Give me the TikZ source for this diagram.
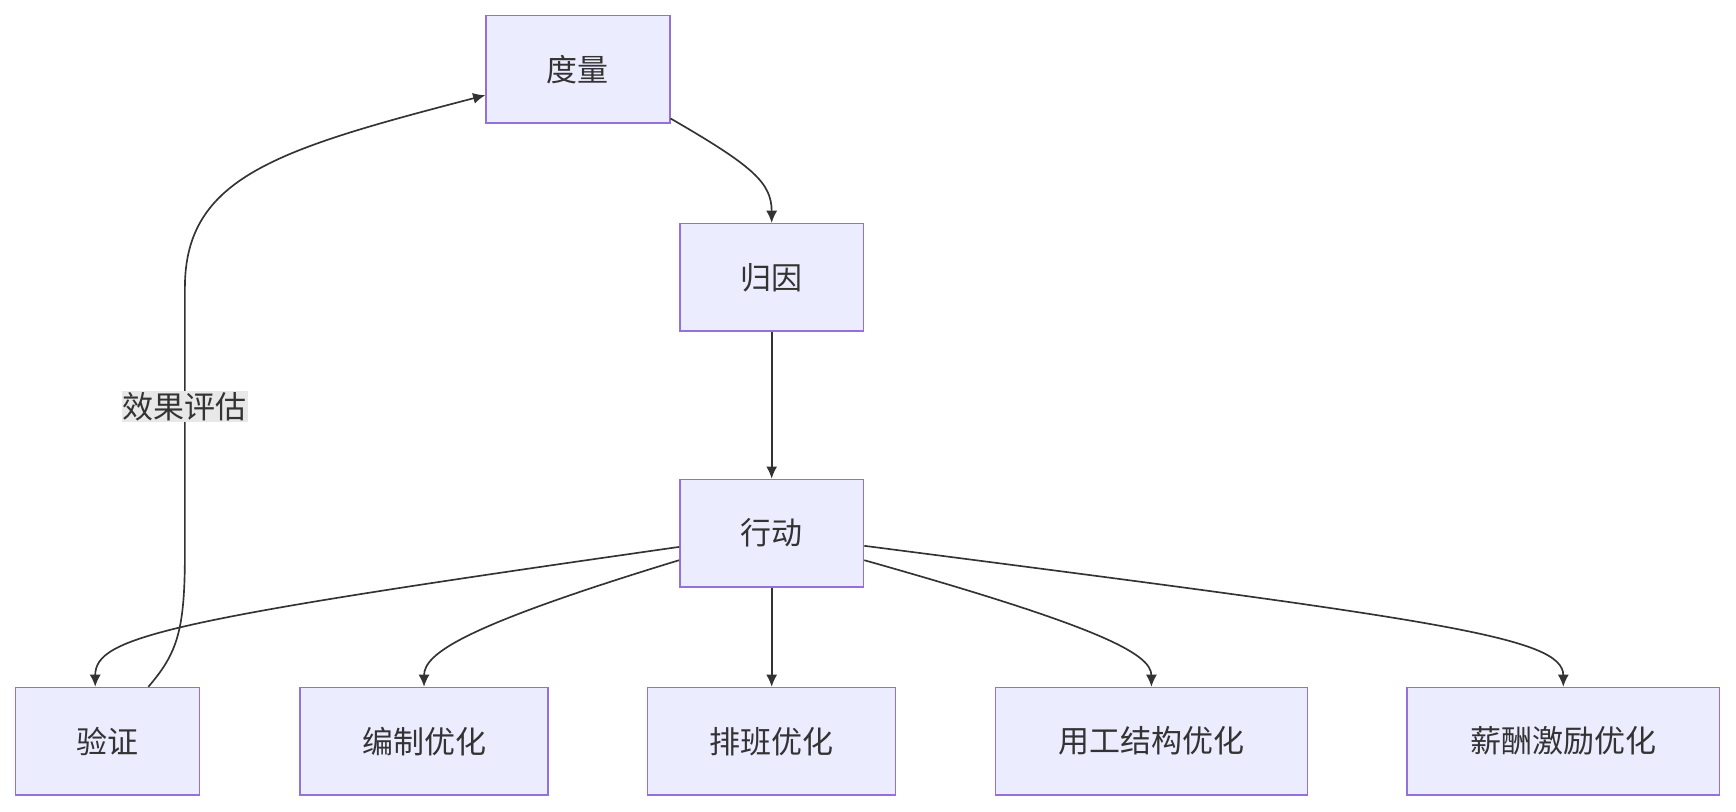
\documentclass[tikz,border=0pt]{standalone}
\usepackage{fontspec}
\setmainfont{Noto Sans CJK SC}
\usetikzlibrary{arrows.meta}
\definecolor{nfill}{HTML}{ECECFF}
\definecolor{nline}{HTML}{9370DB}
\definecolor{eline}{HTML}{333333}
\begin{document}
\begin{tikzpicture}[x=1pt,y=-1pt,
  box/.style={draw=nline,fill=nfill,line width=1.3pt,minimum height=97pt,inner sep=0pt,font=\fontsize{28}{32}\selectfont,text=eline},
  arr/.style={draw=eline,line width=1.5pt,-{Latex[length=11pt,width=10pt]}}]
\useasboundingbox (0,0) rectangle (1568,733.4);
\fill[white] (0,0) rectangle (1568,733.4);
\node[box,minimum width=166pt] (m) at (522,62.5) {度量};
\node[box,minimum width=166pt] (g) at (697,250.5) {归因};
\node[box,minimum width=166pt] (x) at (697,481.5) {行动};
\node[box,minimum width=166pt] (v) at (97,669.5) {验证};
\node[box,minimum width=224pt] (b) at (383,669.5) {编制优化};
\node[box,minimum width=224pt] (p) at (697,669.5) {排班优化};
\node[box,minimum width=282pt] (y) at (1040,669.5) {用工结构优化};
\node[box,minimum width=282pt] (s) at (1412,669.5) {薪酬激励优化};
\draw[arr] (m.east |- 0,107) .. controls (680,150) and (697,165) .. (g.north);
\draw[arr] (g) -- (x);
\draw[arr] (x.west |- 0,494) .. controls (150,560) and (86,575) .. (v.north -| 86,0);
\draw[arr] (x.west |- 0,506) .. controls (420,565) and (383,590) .. (b.north);
\draw[arr] (x) -- (p);
\draw[arr] (x.east |- 0,506) .. controls (990,565) and (1040,590) .. (y.north);
\draw[arr] (x.east |- 0,493) .. controls (1300,560) and (1412,575) .. (s.north);
\draw[arr] (v.north -| 134,0) .. controls (160,590) and (167,570) .. (167,500)
  -- (167,260) .. controls (167,160) and (250,135) .. (m.west |- 0,86);
\node[fill=gray!18,inner sep=1pt,font=\fontsize{28}{32}\selectfont,text=eline] (l) at (167,367) {效果评估};
\end{tikzpicture}
\end{document}
